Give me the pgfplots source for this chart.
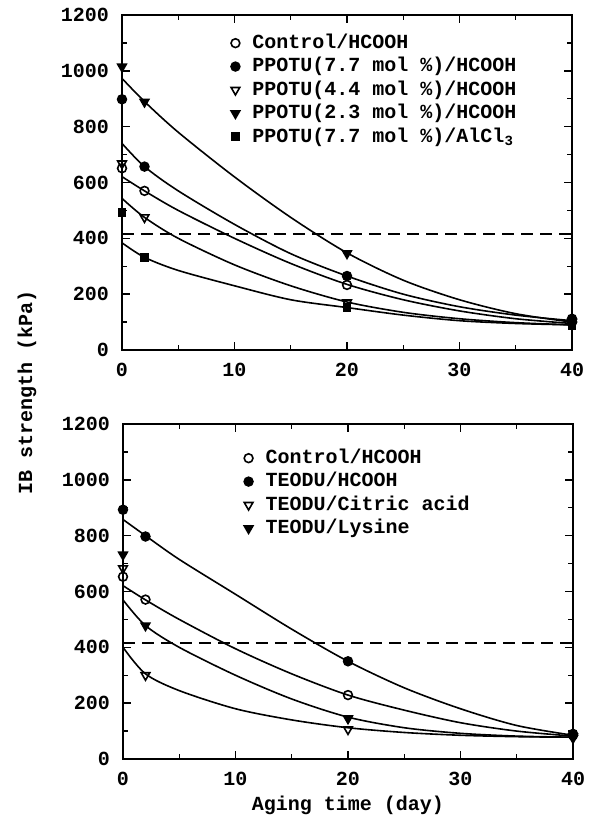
\documentclass[border=0pt]{standalone}
\usepackage{fontspec}
\setmainfont{Liberation Mono}
\usepackage{pgfplots}
\pgfplotsset{compat=1.18}

\pgfplotsset{
  ibaxis/.style={
    scale only axis, width=225pt, height=167.5pt,
    xmin=0, xmax=40, ymin=0, ymax=1200,
    xtick={0,10,...,40}, ytick={0,200,...,1200},
    minor x tick num=1, minor y tick num=1,
    tick align=inside, major tick length=4pt, minor tick length=2.5pt,
    axis line style={line width=0.8pt},
    every tick/.style={black, line width=0.7pt},
    tick label style={font=\bfseries},
    /pgf/number format/assume math mode=true,
    /pgf/number format/1000 sep={},
    xticklabel style={yshift=-3pt},
    yticklabel style={xshift=-3pt},
    clip=false,
    legend style={draw=none, fill=none, font=\bfseries, anchor=north west,
      nodes={text height=7.3pt, text depth=2pt, inner sep=1.2pt}},
    legend cell align=left,
    legend image code/.code={\path (0cm,0cm) (0.4cm,0cm);
      \draw[#1] plot coordinates {(0.15cm,0cm)};},
  },
  curve/.style={black, line width=0.8pt, smooth, no marks, forget plot},
  pts/.style={black, only marks, mark size=2.2pt, mark options={line width=0.8pt}},
  tri/.style={pts, mark size=2.5pt, mark options={rotate=180, line width=0.8pt}},
  limit/.style={black, line width=0.7pt, dash pattern=on 6pt off 3.5pt, forget plot},
}

\begin{document}
\begin{tikzpicture}
\useasboundingbox (-61pt,175pt) rectangle (235.5pt,-237.5pt);

% upper panel: PPOTU resins
\begin{axis}[ibaxis, at={(0pt,0pt)}, anchor=south west,
  legend style={at={(axis description cs:0.218,0.964)}}]
  % fitted curves
  \addplot[curve] coordinates {(0,621) (2,570) (5,500) (10,400) (15,310) (20,235) (25,180) (30,140) (35,112) (40,95)};
  \addplot[curve] coordinates {(0,740) (2,657) (5,570) (10,450) (15,345) (20,265) (25,200) (30,155) (35,125) (40,105)};
  \addplot[curve] coordinates {(0,543) (2,475) (5,400) (10,305) (15,230) (20,172) (25,135) (30,112) (35,98) (40,90)};
  \addplot[curve] coordinates {(0,973) (2,890) (5,780) (10,620) (15,475) (20,348) (25,250) (30,180) (35,130) (40,100)};
  \addplot[curve] coordinates {(0,384) (2,332) (5,285) (10,230) (15,180) (20,152) (25,125) (30,105) (35,95) (40,90)};
  \addplot[limit] coordinates {(0,415) (40,415)};
  % measured points
  \addplot[pts, mark=o] coordinates {(0,651) (2,570) (20,233) (40,100)};
  \addlegendentry{Control/HCOOH}
  \addplot[pts, mark=*] coordinates {(0,898) (2,657) (20,265) (40,112)};
  \addlegendentry{PPOTU(7.7 mol \%)/HCOOH}
  \addplot[tri, mark=triangle] coordinates {(0,668) (2,475) (20,170) (40,90)};
  \addlegendentry{PPOTU(4.4 mol \%)/HCOOH}
  \addplot[tri, mark=triangle*] coordinates {(0,1015) (2,889) (20,346) (40,100)};
  \addlegendentry{PPOTU(2.3 mol \%)/HCOOH}
  \addplot[pts, mark=square*, mark size=1.8pt] coordinates {(0,492) (2,332) (20,152) (40,88)};
  \addlegendentry{PPOTU(7.7 mol \%)/AlCl\textsubscript{3}}
\end{axis}

% lower panel: TEODU resins
\begin{axis}[ibaxis, at={(0.5pt,-204.5pt)}, anchor=south west,
  xlabel={Aging time (day)},
  xlabel style={font=\bfseries, at={(axis description cs:0.5,0)}, anchor=center, yshift=-23pt},
  legend style={at={(axis description cs:0.245,0.946)}}]
  \addplot[curve] coordinates {(0,621) (2,570) (5,500) (10,395) (15,305) (20,229) (25,175) (30,130) (35,100) (40,82)};
  \addplot[curve] coordinates {(0,858) (2,800) (5,715) (10,590) (15,465) (20,350) (25,255) (30,180) (35,120) (40,85)};
  \addplot[curve] coordinates {(0,400) (2,305) (5,245) (10,180) (15,140) (20,112) (25,95) (30,85) (35,80) (40,78)};
  \addplot[curve] coordinates {(0,570) (2,478) (5,400) (10,300) (15,215) (20,150) (25,112) (30,92) (35,82) (40,78)};
  \addplot[limit] coordinates {(0,415) (40,415)};
  \addplot[pts, mark=o] coordinates {(0,653) (2,571) (20,229) (40,85)};
  \addlegendentry{Control/HCOOH}
  \addplot[pts, mark=*] coordinates {(0,893) (2,797) (20,350) (40,90)};
  \addlegendentry{TEODU/HCOOH}
  \addplot[tri, mark=triangle] coordinates {(0,683) (2,300) (20,106) (40,80)};
  \addlegendentry{TEODU/Citric acid}
  \addplot[tri, mark=triangle*] coordinates {(0,732) (2,478) (20,145) (40,75)};
  \addlegendentry{TEODU/Lysine}
\end{axis}

\node[rotate=90, font=\bfseries] at (-47.5pt,-21pt) {IB strength (kPa)};
\end{tikzpicture}
\end{document}
